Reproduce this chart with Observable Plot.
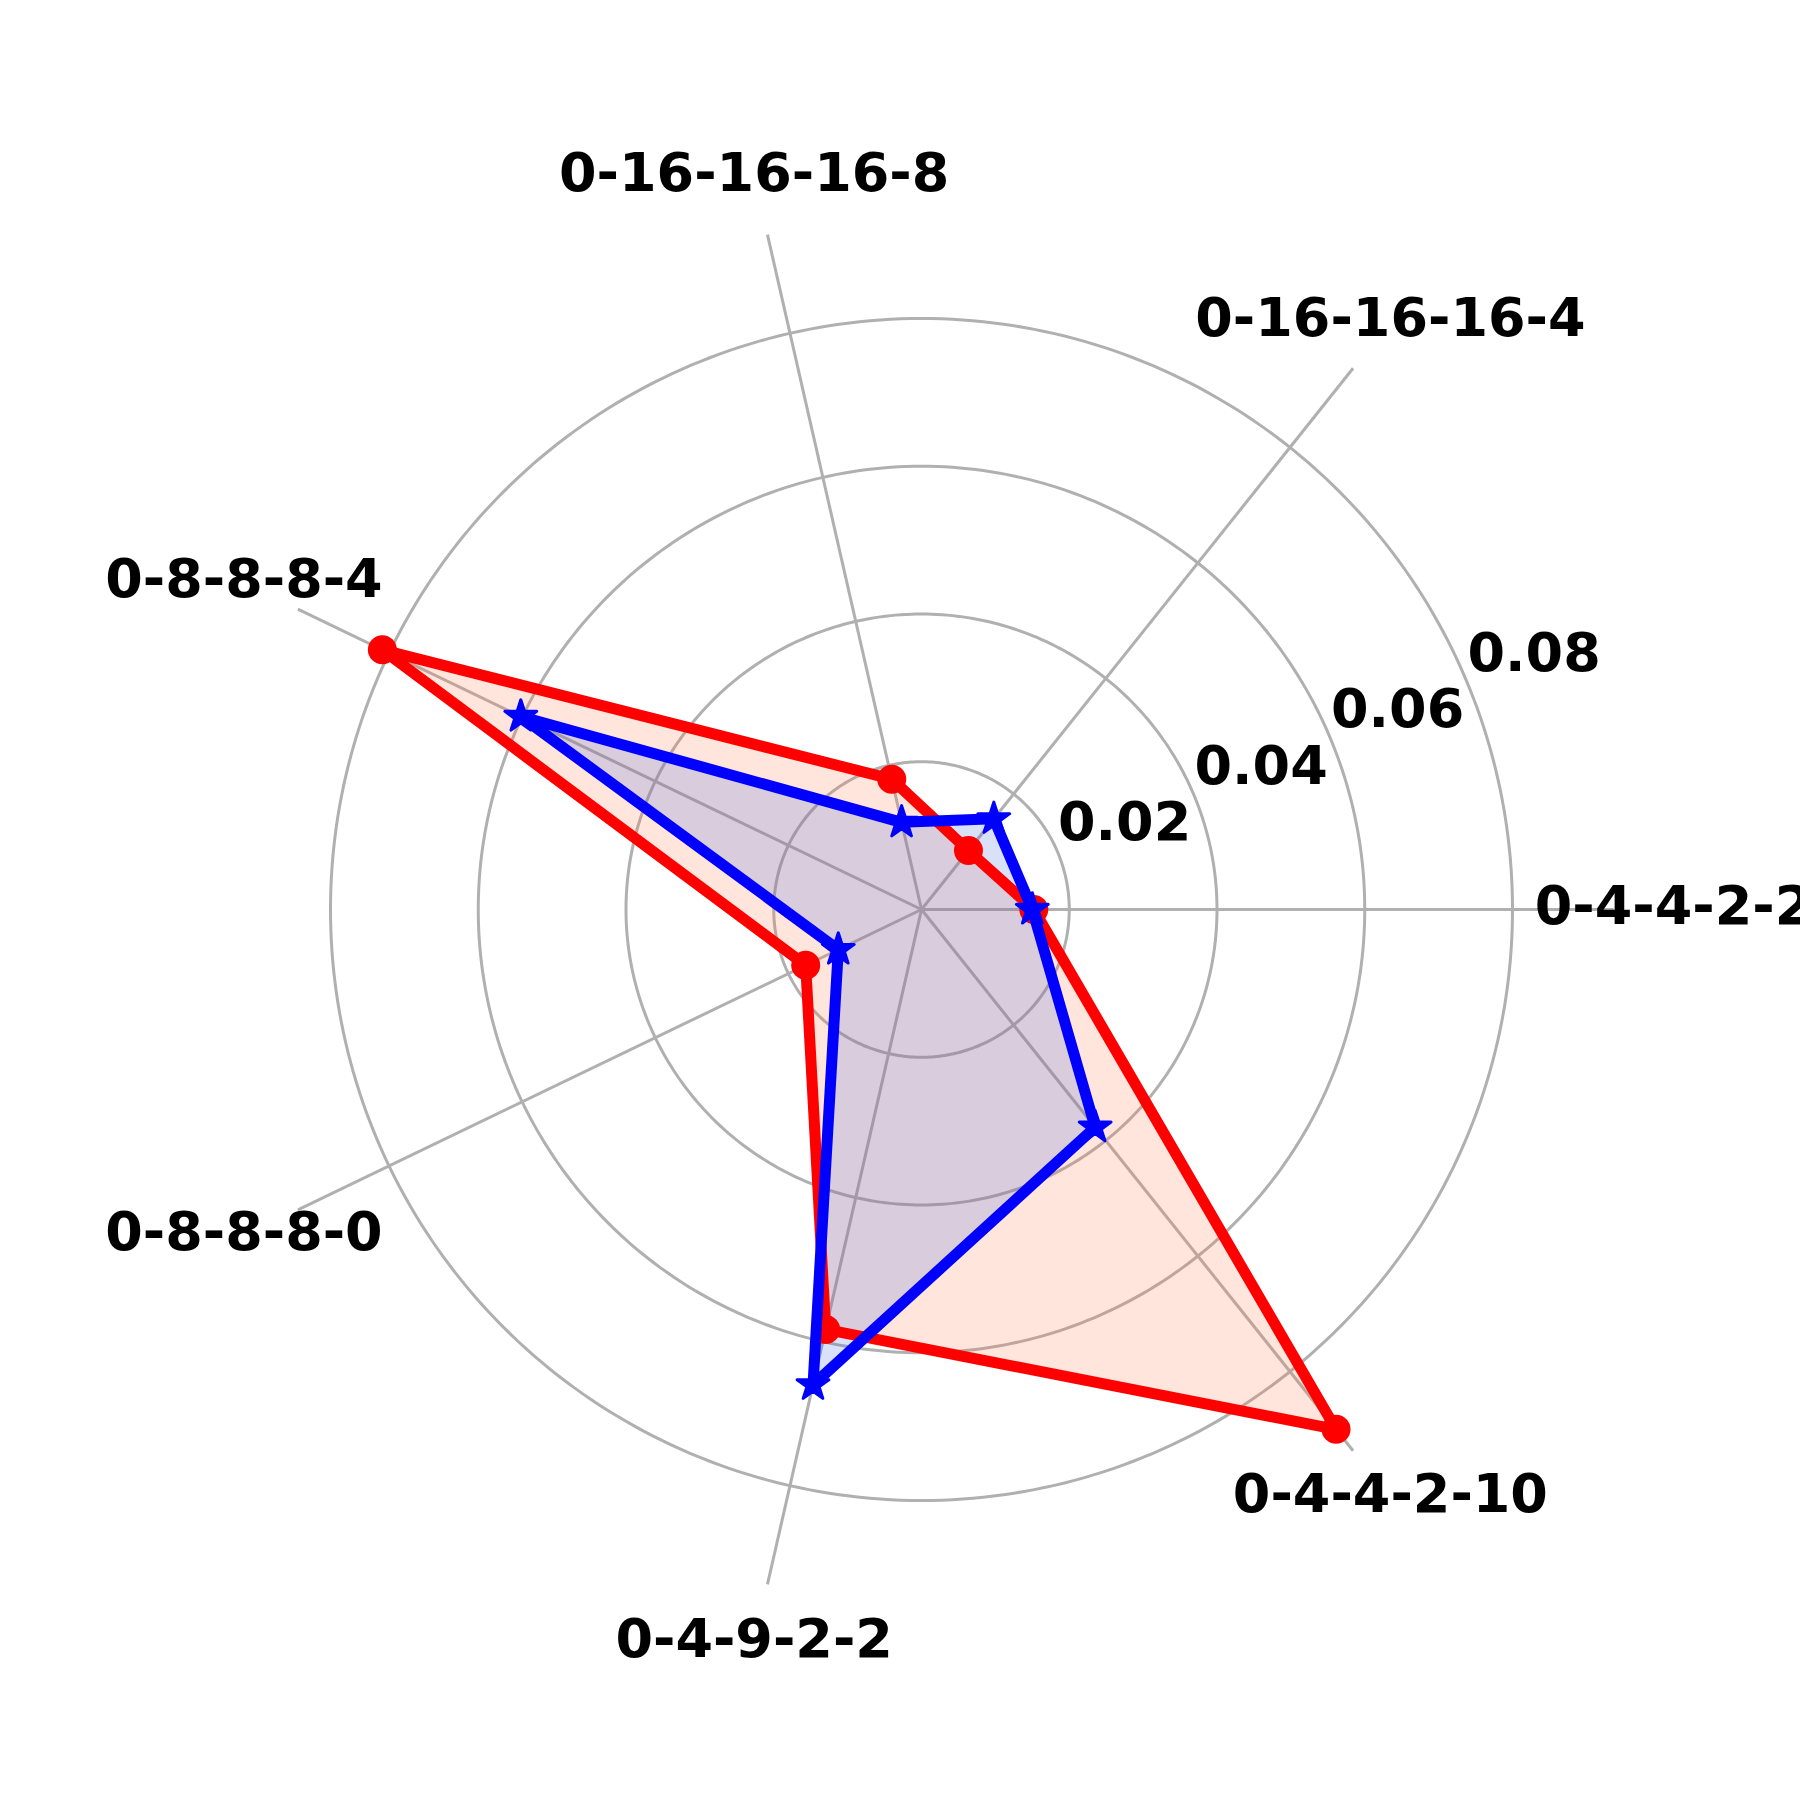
<!DOCTYPE html>
<html>
<head>
<meta charset="utf-8">
<script src="https://cdn.jsdelivr.net/npm/d3@7"></script>
<script src="https://cdn.jsdelivr.net/npm/@observablehq/plot@0.6"></script>
<style>
  html, body { margin: 0; padding: 0; background: white; overflow: hidden; }
  #chart { width: 1800px; height: 1800px; }
  svg { display: block; }
</style>
</head>
<body>
<div id="chart"></div>
<script>
// ---- data ----
const categories = ["0-4-4-2-2", "0-16-16-16-4", "0-16-16-16-8", "0-8-8-8-4", "0-8-8-8-0", "0-4-9-2-2", "0-4-4-2-10"];
const redValues  = [0.0152, 0.0102, 0.0181, 0.0810, 0.0174, 0.0583, 0.0900];
const blueValues = [0.0150, 0.0157, 0.0121, 0.0602, 0.0125, 0.0660, 0.0377];
const ringTicks  = [0.02, 0.04, 0.06, 0.08];
const tickLabels = ["0.02", "0.04", "0.06", "0.08"];

// ---- geometry helpers ----
const W = 1800, H = 1800;
const cx = 921, cy = 909;          // centre in pixels
const k = 7387.5;                  // pixels per data unit
const spokeR = 0.0937;
const labelR = 0.1018;
const tickAngle = Math.PI / 8;     // 22.5 degrees
const n = categories.length;
const ang = i => i * 2 * Math.PI / n;

const toPts = vals => vals.map((v, i) => ({cat: categories[i], v, x: v * Math.cos(ang(i)), y: v * Math.sin(ang(i))}));
const redPts = toPts(redValues);
const bluePts = toPts(blueValues);

const ringPts = [];
for (const v of ringTicks) {
  for (let a = 0; a <= 360; a += 1) {
    const t = a * Math.PI / 180;
    ringPts.push({ring: v, x: v * Math.cos(t), y: v * Math.sin(t)});
  }
}
const spokes = categories.map((c, i) => ({cat: c, x2: spokeR * Math.cos(ang(i)), y2: spokeR * Math.sin(ang(i))}));
const labels = categories.map((c, i) => ({cat: c, x: labelR * Math.cos(ang(i)), y: labelR * Math.sin(ang(i))}));
const rlabels = ringTicks.map((v, i) => ({text: tickLabels[i], x: v * Math.cos(tickAngle), y: v * Math.sin(tickAngle)}));

const grid = "#b0b0b0";
const font = "DejaVu Sans";

const chart = Plot.plot({
  width: W,
  height: H,
  margin: 0,
  style: {background: "white", fontFamily: font, overflow: "visible"},
  x: {domain: [-cx / k, (W - cx) / k], range: [0, W], axis: null},
  y: {domain: [-(H - cy) / k, cy / k], range: [H, 0], axis: null},
  marks: [
    Plot.line(ringPts, {x: "x", y: "y", z: "ring", stroke: grid, strokeWidth: 3}),
    Plot.link(spokes, {x1: 0, y1: 0, x2: "x2", y2: "y2", stroke: grid, strokeWidth: 3}),
    Plot.line(redPts, {x: "x", y: "y", curve: "linear-closed", fill: "coral", fillOpacity: 0.2, stroke: "none"}),
    Plot.line(bluePts, {x: "x", y: "y", curve: "linear-closed", fill: "royalblue", fillOpacity: 0.2, stroke: "none"}),
    Plot.line(redPts, {x: "x", y: "y", curve: "linear-closed", stroke: "red", strokeWidth: 11, strokeLinejoin: "round"}),
    Plot.dot(redPts, {x: "x", y: "y", r: 14.5, fill: "red", stroke: "none"}),
    Plot.line(bluePts, {x: "x", y: "y", curve: "linear-closed", stroke: "blue", strokeWidth: 11, strokeLinejoin: "round"}),
    Plot.dot(bluePts, {x: "x", y: "y", r: 10, symbol: "star", fill: "blue", stroke: "blue", strokeWidth: 3, strokeLinejoin: "round"}),
    Plot.text(labels, {x: "x", y: "y", text: "cat", fontSize: 54, fontWeight: "bold", fill: "black",
      textAnchor: "middle", lineAnchor: "middle", dy: -3}),
    Plot.text(rlabels, {x: "x", y: "y", text: "text", fontSize: 54, fontWeight: "bold", fill: "black",
      textAnchor: "start", lineAnchor: "middle", dy: -30})
  ]
});
document.getElementById("chart").appendChild(chart);
</script>
</body>
</html>
